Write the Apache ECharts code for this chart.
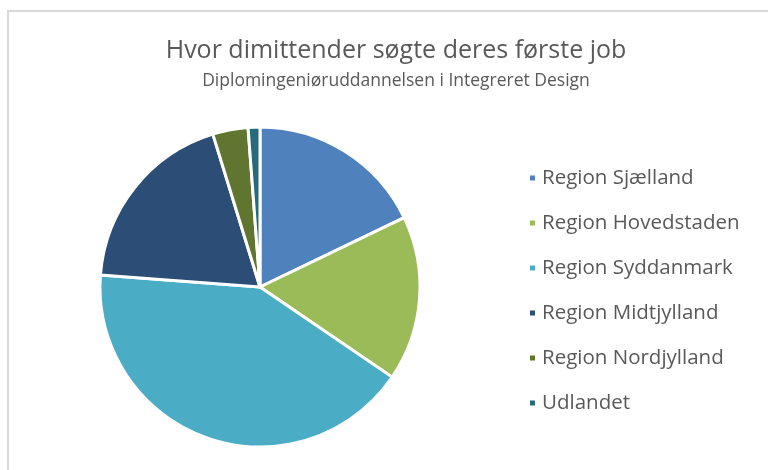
<!DOCTYPE html>
<html lang="da">
<head>
    <meta charset="UTF-8">
    <script src="https://cdn.jsdelivr.net/npm/echarts@6/dist/echarts.min.js"></script>
    <title>Hvor dimittender søgte deres første job</title>
    <style>
        html, body { margin: 0; padding: 0; background: #fff; }
        #frame { position: absolute; left: 7px; top: 10px; width: 780px; height: 480px;
                 border-left: 2px solid #d9d9d9; border-top: 2px solid #d9d9d9; }
        #chart { position: absolute; left: 0; top: 0; width: 768px; height: 470px; }
    </style>
</head>
<body>
<div id="frame"></div>
<div id="chart"></div>
<script>
    // data (counts, clockwise from 12 o'clock)
    let regions = ['Region Sjælland', 'Region Hovedstaden', 'Region Syddanmark',
                   'Region Midtjylland', 'Region Nordjylland', 'Udlandet']
    let counts = [15, 14, 35, 16, 3, 1]
    let colors = ['#4f81bd', '#9bbb59', '#4bacc6', '#2c4d75', '#5f7530', '#276a7c']

    let pieData = []
    for (var i = 0; i < regions.length; i++) {
        pieData.push({ name: regions[i], value: counts[i] })
    }

    var chart = echarts.init(document.getElementById('chart'))
    chart.setOption({
        animation: false,
        color: colors,
        title: {
            text: 'Hvor dimittender søgte deres første job',
            subtext: 'Diplomingeniøruddannelsen i Integreret Design',
            left: 391,
            textAlign: 'center',
            top: 33,
            itemGap: 9,
            textStyle: { fontFamily: 'Open Sans', fontSize: 25, fontWeight: 'normal', color: '#595959' },
            subtextStyle: { fontFamily: 'Open Sans', fontSize: 17.5, color: '#595959' }
        },
        legend: {
            orient: 'vertical',
            left: 523,
            top: 161,
            itemWidth: 7,
            itemHeight: 7,
            itemGap: 21,
            icon: 'rect',
            textStyle: { fontFamily: 'Open Sans', fontSize: 20.5, lineHeight: 24, color: '#595959', padding: [0, 0, 0, 1] }
        },
        series: [{
            type: 'pie',
            center: [260, 287],
            radius: 160,
            startAngle: 90,
            clockwise: true,
            label: { show: false },
            labelLine: { show: false },
            itemStyle: { borderColor: '#fff', borderWidth: 3 },
            emphasis: { disabled: true },
            data: pieData
        }]
    })
</script>
</body>
</html>
